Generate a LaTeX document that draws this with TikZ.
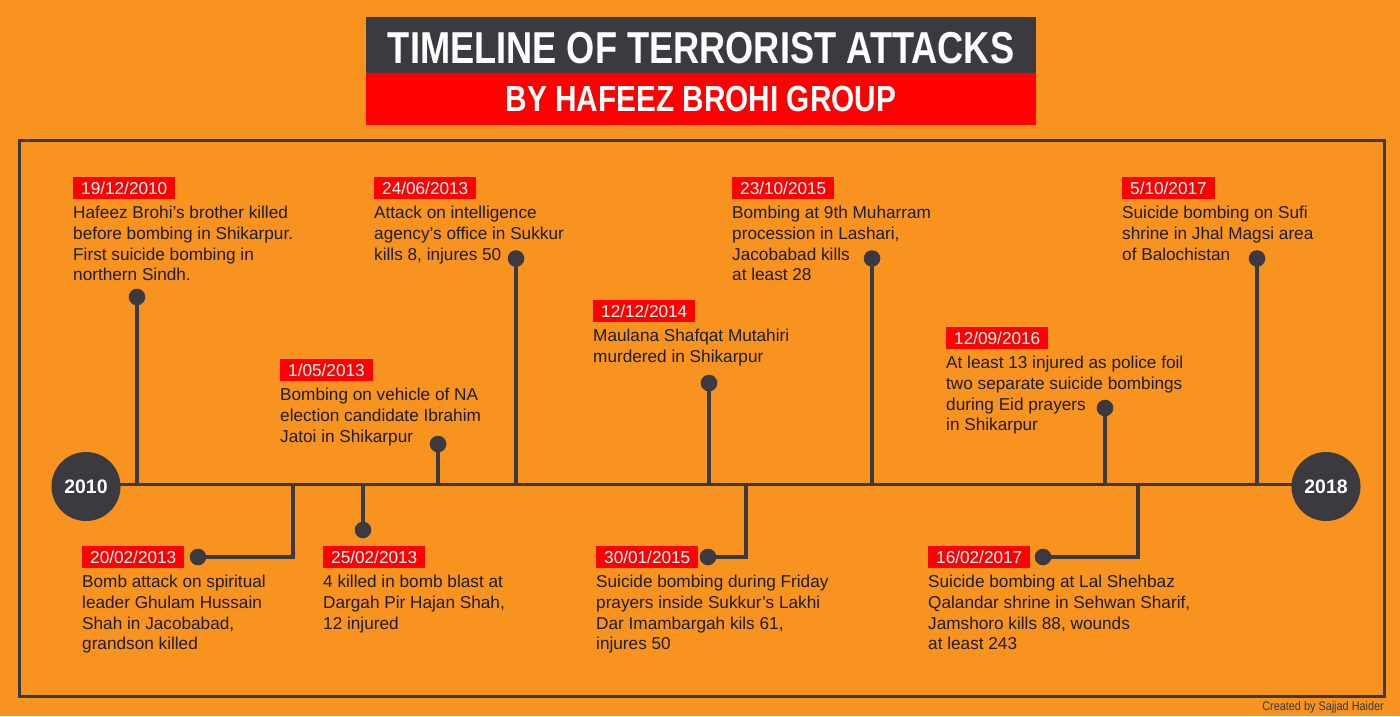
\documentclass[tikz,border=0pt]{standalone}
\usepackage{graphicx}
\usepackage{fontspec}
\setmainfont{Liberation Sans}
\definecolor{bgorange}{HTML}{F7931E}
\definecolor{tldark}{HTML}{3A3A40}
\definecolor{tlred}{HTML}{FF0000}
\definecolor{txt}{HTML}{1E1E1E}
\begin{document}
\begin{tikzpicture}[x=1pt,y=-1pt,
  datebox/.style={fill=tlred,text=white,font=\fontsize{17.2}{20}\selectfont,inner xsep=8pt,inner ysep=4.85pt,text height=12.3pt,text depth=0pt,anchor=north west},
  body/.style={anchor=north west,inner sep=0pt,align=left,text=txt,font=\fontsize{17.2}{20.7}\selectfont},
  dot/.style={circle,fill=tldark,minimum size=16.6pt,inner sep=0pt},
  year/.style={circle,fill=tldark,minimum size=69pt,inner sep=0pt,text=white,font=\bfseries\fontsize{19.5}{20}\selectfont},
  stem/.style={draw=tldark,line width=3.5pt},
  titlebar/.style={minimum width=670pt,inner sep=0pt,anchor=north west},
  titletext/.style={anchor=base,inner sep=0pt,text=white},
]
\fill[bgorange] (0,0) rectangle (1400,716);
\useasboundingbox (0,0) rectangle (1400,716);

% title
\node[titlebar,fill=tldark,minimum height=56pt] (tbox1) at (366,17) {};
\node[titlebar,fill=tlred,minimum height=52pt] (tbox2) at (366,73) {};
\node[titletext,font=\bfseries\fontsize{44.7}{45}\selectfont] (title1) at (701,63) {\scalebox{0.81}[1]{TIMELINE OF TERRORIST ATTACKS}};
\node[titletext,font=\bfseries\fontsize{36.3}{37}\selectfont] (title2) at (701,111) {\scalebox{0.82}[1]{BY HAFEEZ BROHI GROUP}};

% frame
\draw[tldark,line width=3pt] (19,140) rectangle (1384,696);

% main line (drawn first, the year circles cover its ends)
\coordinate (L0) at (100,484.5);
\coordinate (L1) at (1310,484.5);
\draw[stem] (L0) -- (L1);
\node[year] (y2010) at (86,486.5) {2010};
\node[year] (y2018) at (1326,486.5) {2018};

% junctions on the line
\foreach \n/\x in {jA/137,jB/516,jC/872,jD/1257,jE/709,jF/438,jG/1105,jH/293,jI/363,jJ/746,jK/1138}
  \coordinate (\n) at (\x,484.5);

% dots
\node[dot] (dA) at (137,297) {};
\node[dot] (dB) at (516,258.5) {};
\node[dot] (dC) at (872,258.5) {};
\node[dot] (dD) at (1257,258.5) {};
\node[dot] (dE) at (709,383) {};
\node[dot] (dF) at (438,444) {};
\node[dot] (dG) at (1105,408) {};
\node[dot] (dH) at (198,557) {};
\node[dot] (dI) at (363,530) {};
\node[dot] (dJ) at (708,557) {};
\node[dot] (dK) at (1043,557) {};
\coordinate (bH) at (293,557);
\coordinate (bJ) at (746,557);
\coordinate (bK) at (1138,557);

% stems
\draw[stem] (dA.center) -- (jA);
\draw[stem] (dB.center) -- (jB);
\draw[stem] (dC.center) -- (jC);
\draw[stem] (dD.center) -- (jD);
\draw[stem] (dE.center) -- (jE);
\draw[stem] (dF.center) -- (jF);
\draw[stem] (dG.center) -- (jG);
\draw[stem] (dI.center) -- (jI);
\draw[stem] (dH.center) -- (bH) -- (jH);
\draw[stem] (dJ.center) -- (bJ) -- (jJ);
\draw[stem] (dK.center) -- (bK) -- (jK);

% dates and texts
\node[datebox] (eA) at (73,177) {19/12/2010};
\node[body] (tA) at ([yshift=-6.6pt]eA.south west) {Hafeez Brohi’s brother killed\\before bombing in Shikarpur.\\First suicide bombing in\\northern Sindh.};

\node[datebox] (eB) at (374,177) {24/06/2013};
\node[body] (tB) at ([yshift=-6.6pt]eB.south west) {Attack on intelligence\\agency’s office in Sukkur\\kills 8, injures 50};

\node[datebox] (eC) at (732,177) {23/10/2015};
\node[body] (tC) at ([yshift=-6.6pt]eC.south west) {Bombing at 9th Muharram\\procession in Lashari,\\Jacobabad kills\\at least 28};

\node[datebox] (eD) at (1122,177) {5/10/2017};
\node[body] (tD) at ([yshift=-6.6pt]eD.south west) {Suicide bombing on Sufi\\shrine in Jhal Magsi area\\of Balochistan};

\node[datebox] (eE) at (593,300) {12/12/2014};
\node[body] (tE) at ([yshift=-6.6pt]eE.south west) {Maulana Shafqat Mutahiri\\murdered in Shikarpur};

\node[datebox] (eF) at (280,359) {1/05/2013};
\node[body] (tF) at ([yshift=-6.6pt]eF.south west) {Bombing on vehicle of NA\\election candidate Ibrahim\\Jatoi in Shikarpur};

\node[datebox] (eG) at (946,327) {12/09/2016};
\node[body] (tG) at ([yshift=-6.6pt]eG.south west) {At least 13 injured as police foil\\two separate suicide bombings\\during Eid prayers\\in Shikarpur};

\node[datebox] (eH) at (82,546) {20/02/2013};
\node[body] (tH) at ([yshift=-6.6pt]eH.south west) {Bomb attack on spiritual\\leader Ghulam Hussain\\Shah in Jacobabad,\\grandson killed};

\node[datebox] (eI) at (323,546) {25/02/2013};
\node[body] (tI) at ([yshift=-6.6pt]eI.south west) {4 killed in bomb blast at\\Dargah Pir Hajan Shah,\\12 injured};

\node[datebox] (eJ) at (596,546) {30/01/2015};
\node[body] (tJ) at ([yshift=-6.6pt]eJ.south west) {Suicide bombing during Friday\\prayers inside Sukkur’s Lakhi\\Dar Imambargah kils 61,\\injures 50};

\node[datebox] (eK) at (928,546) {16/02/2017};
\node[body] (tK) at ([yshift=-6.6pt]eK.south west) {Suicide bombing at Lal Shehbaz\\Qalandar shrine in Sehwan Sharif,\\Jamshoro kills 88, wounds\\at least 243};

% credit
\node[anchor=base east,inner sep=0pt,text=tldark,font=\fontsize{12.5}{13}\selectfont] (credit) at (1384,710) {\scalebox{0.87}[1]{Created by Sajjad Haider}};
\end{tikzpicture}
\end{document}
